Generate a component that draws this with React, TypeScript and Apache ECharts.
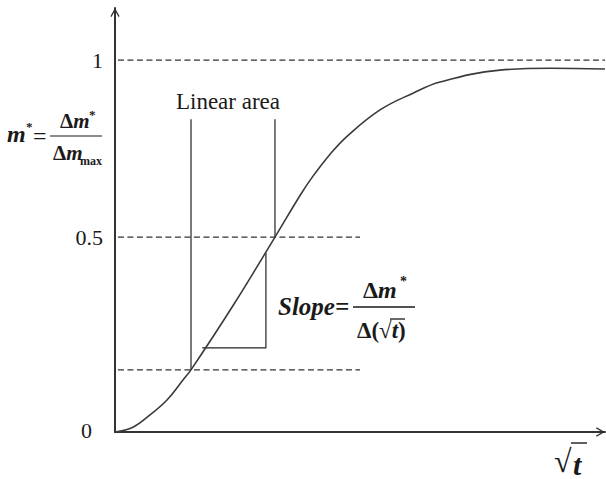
import React, { useEffect, useRef } from 'react';
import * as echarts from 'echarts';

const X_MAX = 10;
const Y_MAX = 1.14;

// sigmoid sorption curve m* vs sqrt(t)
const curveX = [0, 0.367, 0.714, 1.061, 1.388, 1.551, 2.41, 3.265, 3.776, 4.041, 4.39, 4.735, 5.408, 6.082, 6.633, 7.857, 8.878, 10];
const curveY = [0, 0.013, 0.046, 0.086, 0.14, 0.167, 0.34, 0.524, 0.636, 0.688, 0.747, 0.795, 0.866, 0.911, 0.941, 0.973, 0.978, 0.976];

// dashed reference levels
const refLevels = [1, 0.524, 0.167];
const refEnds = [10, 5.0, 5.0];

// y tick labels
const yTickValues = [1, 0.524, 0];
const yTickLabels = ['1', '0.5', '0'];

// linear area bounds
const linearAreaX = [1.551, 3.265];
const linearAreaBottom = [0.167, 0.524];
const linearAreaTop = 0.841;

// slope triangle
const slopeTriX = [1.78, 3.08, 3.08];
const slopeTriY = [0.226, 0.226, 0.481];

const SERIF = '"Liberation Serif", "Times New Roman", serif';
const INK = '#1a1a1a';
const CHEVRON = 'path://M5,0 L10,9 L8.8,9.7 L5,2.9 L1.2,9.7 L0,9 Z';

export default function App() {
  const ref = useRef<HTMLDivElement>(null);
  useEffect(() => {
    if (!ref.current) return;
    const chart = echarts.init(ref.current, null, { renderer: 'svg' });
    const axisCommon = {
      type: 'value' as const,
      min: 0,
      axisLine: {
        show: true,
        onZero: false,
        lineStyle: { color: '#333', width: 2 },
        symbol: ['none', CHEVRON],
        symbolSize: [10, 9],
        symbolOffset: [0, -4.5],
      },
      axisTick: { show: false },
      axisLabel: { show: false },
      splitLine: { show: false },
    };
    const thin = { color: '#222', width: 1.2 };
    const series: any[] = [];
    series.push({
      type: 'line',
      data: curveX.map((x, i) => [x, curveY[i]]),
      smooth: 0.4,
      showSymbol: false,
      lineStyle: { color: '#3a3a3a', width: 1.6 },
      z: 5,
    });
    refLevels.forEach((lv, i) => {
      series.push({
        type: 'line',
        data: [[0.06, lv], [refEnds[i], lv]],
        showSymbol: false,
        lineStyle: { color: '#333', width: 1.2, type: [6, 3.5] },
      });
    });
    linearAreaX.forEach((x, i) => {
      series.push({
        type: 'line',
        data: [[x, linearAreaBottom[i]], [x, linearAreaTop]],
        showSymbol: false,
        lineStyle: thin,
      });
    });
    series.push({
      type: 'line',
      data: slopeTriX.map((x, i) => [x, slopeTriY[i]]),
      showSymbol: false,
      lineStyle: thin,
    });

    chart.setOption({
      animation: false,
      backgroundColor: '#fff',
      grid: { left: 115, right: 1, top: 8, bottom: 47 },
      xAxis: { ...axisCommon, max: X_MAX },
      yAxis: { ...axisCommon, max: Y_MAX },
      series,
    });

    const txt = (x: number, y: number, text: string, fs: number, extra: any = {}) => ({
      type: 'text',
      x,
      y,
      silent: true,
      style: {
        text,
        fontSize: fs,
        fontFamily: SERIF,
        fill: INK,
        align: 'left',
        verticalAlign: 'middle',
        ...extra,
      },
    });
    const bi = { fontStyle: 'italic', fontWeight: 'bold' };
    const hline = (x1: number, x2: number, y: number, w = 1.4) => ({
      type: 'line',
      silent: true,
      shape: { x1, y1: y, x2, y2: y },
      style: { stroke: INK, lineWidth: w },
    });
    const richFrac = (x: number, y: number, text: string, fs: number) => ({
      type: 'text',
      x,
      y,
      silent: true,
      style: {
        text,
        fontFamily: SERIF,
        fontSize: fs,
        fill: INK,
        verticalAlign: 'middle',
        rich: {
          u: { fontFamily: SERIF, fontSize: fs, fontWeight: 'bold', fill: INK },
          i: { fontFamily: SERIF, fontSize: fs, fontWeight: 'bold', fontStyle: 'italic', fill: INK },
        },
      },
    });

    const axisX = chart.convertToPixel({ gridIndex: 0 }, [0, 0])[0];
    const graphics: any[] = [];
    yTickValues.forEach((v, i) => {
      const py = chart.convertToPixel({ gridIndex: 0 }, [0, v])[1];
      const isZero = v === 0;
      graphics.push(txt(axisX - (isZero ? 23 : 12), py - (isZero ? 2 : 0), yTickLabels[i], 22, { align: 'right' }));
    });
    const la = chart.convertToPixel({ gridIndex: 0 }, [(linearAreaX[0] + linearAreaX[1]) / 2, linearAreaTop]);
    graphics.push(txt(la[0] - 5, la[1] - 18, 'Linear area', 23, { align: 'center' }));

    // Slope formula
    graphics.push(txt(278, 306, 'Slope=', 25, bi));
    graphics.push(richFrac(363, 290, '{u|Δ}{i|m}', 24));
    graphics.push(txt(400, 281, '*', 14, { fontWeight: 'bold' }));
    graphics.push(hline(353, 415, 307));
    graphics.push(richFrac(357, 330, '{u|Δ(√}{i|t}{u|)}', 23));
    graphics.push(hline(390, 405, 319, 1.3));

    // y-axis label m* = Δm*/Δm_max
    graphics.push(txt(7, 134, 'm', 24, bi));
    graphics.push(txt(26, 126, '*', 13, { fontWeight: 'bold' }));
    graphics.push(txt(33, 136, '=', 24));
    graphics.push(richFrac(60, 121, '{u|Δ}{i|m}', 21));
    graphics.push(txt(89, 114, '*', 13, { fontWeight: 'bold' }));
    graphics.push(hline(50, 102, 136, 1.2));
    graphics.push(richFrac(53, 153, '{u|Δ}{i|m}', 21));
    graphics.push(txt(80, 161, 'max', 12, { fontWeight: 'bold' }));

    // x-axis label sqrt(t)
    graphics.push(txt(554, 461, '√', 32));
    graphics.push(txt(573, 464, 't', 30, bi));
    graphics.push(hline(571, 587, 443, 1.4));

    chart.setOption({ graphic: graphics });
    return () => chart.dispose();
  }, []);
  return <div ref={ref} style={{ position: 'fixed', left: 0, top: 0, width: 606, height: 479 }} />;
}
